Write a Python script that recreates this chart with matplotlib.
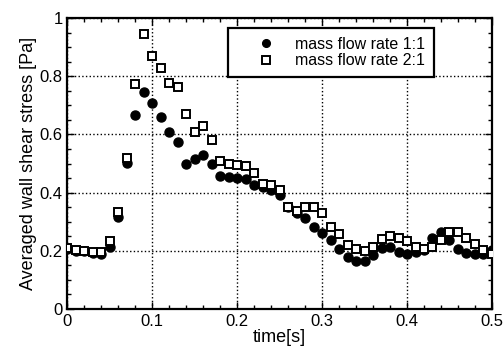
import matplotlib
matplotlib.use("Agg")
import matplotlib.pyplot as plt
from matplotlib.ticker import MultipleLocator

plt.rcParams['font.family'] = ['Liberation Sans', 'DejaVu Sans']

t_11 = [0.0, 0.01, 0.02, 0.03, 0.04, 0.05, 0.06, 0.07, 0.08, 0.09, 0.10, 0.11, 0.12, 0.13,
        0.14, 0.15, 0.16, 0.17, 0.18, 0.19, 0.20, 0.21, 0.22, 0.23, 0.24, 0.25, 0.26, 0.27,
        0.28, 0.29, 0.30, 0.31, 0.32, 0.33, 0.34, 0.35, 0.36, 0.37, 0.38, 0.39, 0.40, 0.41,
        0.42, 0.43, 0.44, 0.45, 0.46, 0.47, 0.48, 0.49, 0.50]
s_11 = [0.205, 0.20, 0.198, 0.193, 0.19, 0.214, 0.317, 0.503, 0.667, 0.747, 0.709, 0.661, 0.609, 0.575,
        0.50, 0.514, 0.530, 0.50, 0.457, 0.453, 0.450, 0.448, 0.426, 0.42, 0.41, 0.39, 0.35, 0.33,
        0.312, 0.283, 0.26, 0.237, 0.205, 0.178, 0.163, 0.163, 0.186, 0.209, 0.214, 0.197, 0.189, 0.197,
        0.204, 0.243, 0.266, 0.237, 0.206, 0.193, 0.19, 0.19, 0.203]

t_21 = t_11
s_21 = [0.209, 0.203, 0.20, 0.195, 0.195, 0.234, 0.334, 0.518, 0.772, 0.945, 0.869, 0.827, 0.778, 0.762,
        0.672, 0.607, 0.63, 0.58, 0.51, 0.498, 0.495, 0.49, 0.468, 0.43, 0.426, 0.41, 0.352, 0.338,
        0.35, 0.352, 0.329, 0.281, 0.258, 0.22, 0.205, 0.20, 0.214, 0.24, 0.25, 0.243, 0.235, 0.214,
        0.206, 0.212, 0.237, 0.266, 0.266, 0.243, 0.223, 0.203, 0.19]

fig = plt.figure(figsize=(5.03, 3.49), dpi=100)
ax = fig.add_axes([0.134, 0.115, 0.844, 0.833])

ax.plot(t_11, s_11, linestyle='none', marker='o', markersize=6.5, color='black',
        label='mass flow rate 1:1', zorder=3)
ax.plot(t_21, s_21, linestyle='none', marker='s', markersize=6.3, markerfacecolor='white',
        markeredgecolor='black', markeredgewidth=1.4, label='mass flow rate 2:1', zorder=4)

ax.set_xlim(0, 0.5)
ax.set_ylim(0, 1)
ax.xaxis.set_minor_locator(MultipleLocator(0.02))
ax.yaxis.set_minor_locator(MultipleLocator(0.05))
ax.set_xticks([0, 0.1, 0.2, 0.3, 0.4, 0.5])
ax.set_xticklabels(['0', '0.1', '0.2', '0.3', '0.4', '0.5'])
ax.set_yticks([0, 0.2, 0.4, 0.6, 0.8, 1.0])
ax.set_yticklabels(['0', '0.2', '0.4', '0.6', '0.8', '1'])
ax.tick_params(which='both', direction='in', top=True, right=True, labelsize=12)
ax.tick_params(which='major', length=5, width=1)
ax.tick_params(which='minor', length=3, width=1)
ax.grid(True, which='major', linestyle=':', color='black', linewidth=1)
for sp in ax.spines.values():
    sp.set_linewidth(1.6)

ax.set_xlabel('time[s]', fontsize=13, labelpad=0)
ax.set_ylabel('Averaged wall shear stress [Pa]', fontsize=13, labelpad=2)

leg = ax.legend(loc='upper left', bbox_to_anchor=(0.379, 0.966), borderaxespad=0,
                fontsize=11.5, frameon=True, fancybox=False, edgecolor='black', framealpha=1,
                handlelength=3.6, handletextpad=0.05, borderpad=0.55, labelspacing=0.1,
                markerscale=0.85)
leg.get_frame().set_linewidth(1.6)

fig.savefig('out.png', dpi=100)
